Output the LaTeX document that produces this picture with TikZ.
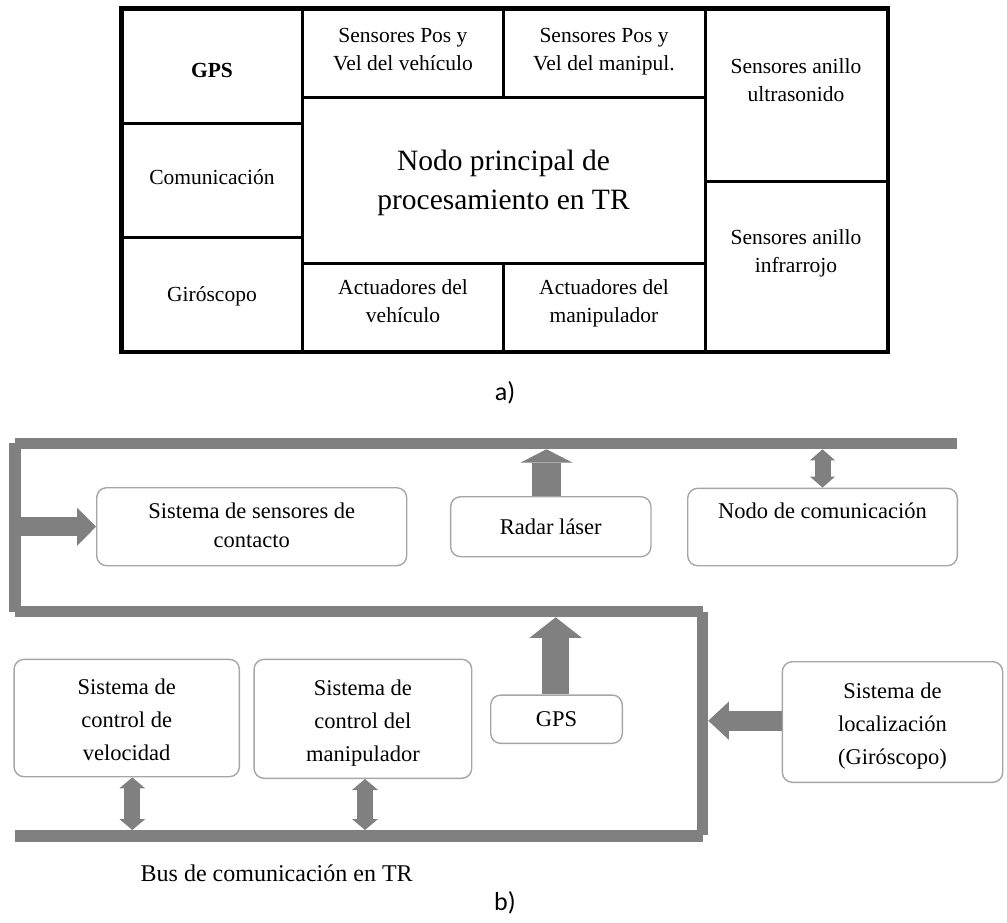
\documentclass[tikz,border=0pt]{standalone}
\usepackage{fontspec}
\setmainfont{Liberation Serif}
\newfontfamily\captionfont{Carlito}
\usetikzlibrary{arrows.meta}
\definecolor{busgray}{HTML}{808080}
\definecolor{boxgray}{HTML}{A6A6A6}
% taller top strut to sit three-line labels a little lower in their boxes
\newcommand{\topgap}{\rule{0pt}{29pt}}

\begin{document}
\begin{tikzpicture}[x=1pt,y=-1pt,
  cellline/.style={draw=black, line width=3pt, line join=miter},
  tabtxt/.style={font=\fontsize{21.5}{28.3}\selectfont, align=center, inner sep=0pt},
  bigtxt/.style={font=\fontsize{29.5}{38.4}\selectfont, align=center, inner sep=0pt},
  captxt/.style={font=\captionfont\fontsize{26}{30}\selectfont, inner sep=0pt},
  bus/.style={draw=busgray, line width=11.5pt},
  sysbox/.style={draw=boxgray, line width=1.4pt, rounded corners=10pt, fill=white,
    align=center, inner sep=0pt, font=\fontsize{22.5}{29}\selectfont},
  tallbox/.style={sysbox, font=\fontsize{22.5}{33}\selectfont},
  bigarrow/.style={draw=busgray, line width=#1},
  uptip/.style={-{Triangle[width=52.5pt,length=#1,line width=0pt]}},
  sidetip/.style={-{Triangle[width=38.3pt,length=#1,line width=0pt]}},
  dbltip/.style={{Triangle[width=#1,length=11pt,line width=0pt]}-{Triangle[width=#1,length=11pt,line width=0pt]}}
]
\useasboundingbox (0,0) rectangle (1007,922);

% ---------- a) processing node layout ----------
\draw[cellline] (122,9) rectangle (302,123);
\draw[cellline] (122,123) rectangle (302,237.5);
\draw[cellline] (122,237.5) rectangle (302,351);
\draw[cellline] (302,9) rectangle (503,97);
\draw[cellline] (503,9) rectangle (705,97);
\draw[cellline] (302,97) rectangle (705,263);
\draw[cellline] (302,263) rectangle (503,351);
\draw[cellline] (503,263) rectangle (705,351);
\draw[cellline] (705,9) rectangle (887,181.7);
\draw[cellline] (705,181.7) rectangle (887,351);
\draw[line width=3.5pt] (120.5,7.5) rectangle (888.5,352.5);

\node[tabtxt, font=\fontsize{21.5}{28.3}\selectfont\bfseries] (tgps) at (212,70) {GPS};
\node[tabtxt] (tcom) at (212,176.7) {Comunicación};
\node[tabtxt] (tgiro) at (212,296.7) {Giróscopo};
\node[tabtxt] (tspv) at (403,50.5) {\strut Sensores Pos y\\Vel del vehículo\strut};
\node[tabtxt] (tspm) at (604,50.5) {\strut Sensores Pos y\\Vel del manipul.\strut};
\node[bigtxt] (tnodo) at (503.5,182.5) {\strut Nodo principal de\\procesamiento en TR\strut};
\node[tabtxt] (tav) at (403,302.5) {\strut Actuadores del\\vehículo\strut};
\node[tabtxt] (tam) at (604,302.5) {\strut Actuadores del\\manipulador\strut};
\node[tabtxt] (tsau) at (796,82) {\strut Sensores anillo\\ultrasonido\strut};
\node[tabtxt] (tsai) at (796,252.5) {\strut Sensores anillo\\infrarrojo\strut};
\node[captxt] (capa) at (505,393) {a)};

% ---------- b) real-time communication bus ----------
\coordinate (tbL) at (15,443.3);
\coordinate (tbR) at (957,443.3);
\coordinate (lvT) at (15,443);
\coordinate (lvB) at (15,611.7);
\coordinate (mbL) at (15,611.7);
\coordinate (mbR) at (702.7,611.7);
\coordinate (rvT) at (702.5,611.7);
\coordinate (rvB) at (702.5,835);
\coordinate (bbL) at (15,835.8);
\coordinate (bbR) at (703.3,835.8);
\coordinate (tbedge) at (0,449.3);
\coordinate (mbedge) at (0,617.3);
\coordinate (bbedge) at (0,830);
\coordinate (lvedge) at (20.7,0);
\coordinate (rvedge) at (708.3,0);

\draw[bus] (tbL) -- (tbR);
\draw[bus] (lvT) -- (lvB);
\draw[bus] (mbL) -- (mbR);
\draw[bus] (rvT) -- (rvB);
\draw[bus] (bbL) -- (bbR);

\node[sysbox, minimum width=310pt, minimum height=78pt] (contact) at (251.7,526.7)
  {\strut Sistema de sensores de\\contacto\strut};
\node[sysbox, minimum width=200.3pt, minimum height=60pt] (radar) at (550.8,526.7)
  {Radar láser};
\node[sysbox, minimum width=269.6pt, minimum height=77.4pt] (nodocom) at (822.5,527)
  {\strut Nodo de comunicación\\\strut};
\node[tallbox, minimum width=225.3pt, minimum height=117.4pt] (vel) at (126.7,718)
  {\topgap Sistema de\\control de\\velocidad\strut};
\node[tallbox, minimum width=217.7pt, minimum height=119pt] (man) at (362.9,718.8)
  {\topgap Sistema de\\control del\\manipulador\strut};
\node[sysbox, minimum width=131.6pt, minimum height=48.3pt] (gpsb) at (556.5,719.2)
  {GPS};
\node[tallbox, minimum width=220.4pt, minimum height=120.6pt] (loc) at (892.5,722)
  {\topgap Sistema de\\localización\\(Giróscopo)\strut};

% block arrows between the units and the bus
\draw[bigarrow=19pt, sidetip=19pt] (contact.west -| lvedge) -- (contact.west);
\draw[bigarrow=28.4pt, uptip=13.4pt] ([xshift=-4.3pt]radar.north) -- ([xshift=-4.3pt]radar.north |- tbedge);
\draw[bigarrow=26.7pt, uptip=20.6pt] ([xshift=-0.8pt]gpsb.north) -- ([xshift=-0.8pt]gpsb.north |- mbedge);
\draw[bigarrow=20pt, sidetip=20.6pt] ([yshift=1.3pt]loc.west) -- ([yshift=1.3pt]loc.west -| rvedge);
\draw[bigarrow=16pt, dbltip=25pt] (nodocom.north |- tbedge) -- (nodocom.north);
\draw[bigarrow=16pt, dbltip=26pt] ([xshift=5.6pt]vel.south) -- ([xshift=5.6pt]vel.south |- bbedge);
\draw[bigarrow=16pt, dbltip=26pt] ([xshift=2.1pt]man.south) -- ([xshift=2.1pt]man.south |- bbedge);

\node[font=\fontsize{24}{29}\selectfont, inner sep=0pt] (buslabel) at (276.7,873.3)
  {Bus de comunicación en TR};
\node[captxt] (capb) at (505,903) {b)};
\end{tikzpicture}
\end{document}
